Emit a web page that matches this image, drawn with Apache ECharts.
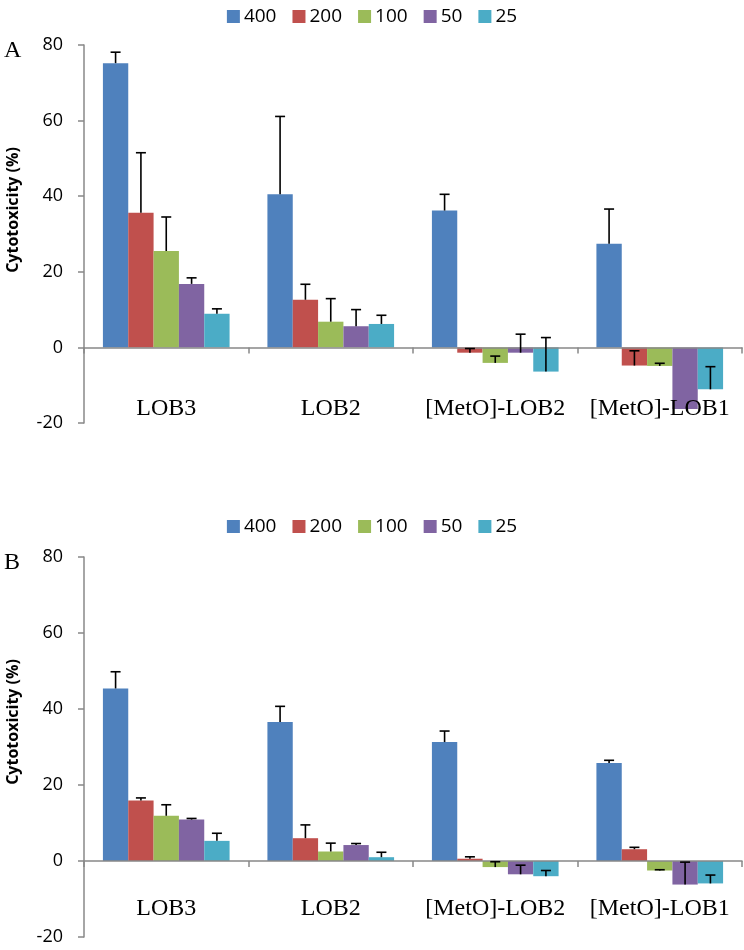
<!DOCTYPE html>
<html>
<head>
<meta charset="utf-8">
<script src="https://cdn.jsdelivr.net/npm/echarts@6/dist/echarts.min.js"></script>
<style>
  html, body { margin: 0; padding: 0; background: #fff; }
  #chart { width: 744px; height: 950px; }
</style>
</head>
<body>
<div id="chart"></div>
<script>
// peptide categories and doses
const categories = ['LOB3', 'LOB2', '[MetO]-LOB2', '[MetO]-LOB1'];
const doses = ['400', '200', '100', '50', '25'];
const yTicks = [-20, 0, 20, 40, 60, 80];

// panel A : mean cytotoxicity (%) and error (+)
const meanA400 = [75.2, 40.5, 36.2, 27.4];
const meanA200 = [35.6, 12.6, -1.4, -4.8];
const meanA100 = [25.5, 6.8, -4.1, -4.9];
const meanA50 = [16.8, 5.6, -1.4, -16.3];
const meanA25 = [8.9, 6.2, -6.4, -11.1];
const errA400 = [2.9, 20.6, 4.3, 9.2];
const errA200 = [15.9, 4.1, 1.1, 3.9];
const errA100 = [9.0, 6.1, 1.8, 0.7];
const errA50 = [1.6, 4.4, 4.9, 0];
const errA25 = [1.3, 2.3, 9.0, 6.0];

// panel B
const meanB400 = [45.4, 36.6, 31.3, 25.8];
const meanB200 = [15.9, 6.0, 0.6, 3.1];
const meanB100 = [11.9, 2.5, -1.6, -2.5];
const meanB50 = [10.9, 4.2, -3.5, -6.2];
const meanB25 = [5.3, 1.0, -4.0, -5.9];
const errB400 = [4.4, 4.1, 2.9, 0.7];
const errB200 = [0.7, 3.5, 0.5, 0.5];
const errB100 = [2.9, 2.2, 1.4, 0.2];
const errB50 = [0.3, 0.4, 2.4, 5.9];
const errB25 = [2.0, 1.3, 1.5, 2.2];

const colors = ['#4F81BD', '#C0504D', '#9BBB59', '#8064A2', '#4BACC6'];
const catGap = 0.23;

const chart = echarts.init(document.getElementById('chart'), null, { renderer: 'canvas' });

/**
 * 误差线：竖线 + 顶端横帽
 */
function renderErr(params, api) {
  const cat = api.value(0);
  const val = api.value(1);
  const err = api.value(2);
  const k = api.value(3);
  if (!err) return null;
  const band = api.size([1, 0])[0];
  const barW = band * (1 - catGap) / doses.length;
  const p0 = api.coord([cat, val]);
  const p1 = api.coord([cat, val + err]);
  const x = p0[0] + (k - (doses.length - 1) / 2) * barW;
  const style = { stroke: '#000', lineWidth: 1.6 };
  return {
    type: 'group',
    children: [
      { type: 'line', shape: { x1: x, y1: p0[1], x2: x, y2: p1[1] }, style: style },
      { type: 'line', shape: { x1: x - 5, y1: p1[1], x2: x + 5, y2: p1[1] }, style: style }
    ]
  };
}

function buildSeries(means, errs, idx) {
  const out = [];
  const errData = [];
  means.forEach((m, k) => {
    out.push({
      name: doses[k],
      type: 'bar',
      xAxisIndex: idx,
      yAxisIndex: idx,
      data: m,
      barGap: 0,
      barCategoryGap: (catGap * 100) + '%',
      itemStyle: { color: colors[k] },
      emphasis: { disabled: true }
    });
    m.forEach((v, c) => errData.push([c, v, errs[k][c], k]));
  });
  out.push({
    name: 'err' + idx,
    type: 'custom',
    xAxisIndex: idx,
    yAxisIndex: idx,
    renderItem: renderErr,
    data: errData,
    z: 10,
    silent: true
  });
  return out;
}

const grids = [
  { left: 84, width: 658, top: 45, height: 378 },
  { left: 84, width: 658, top: 557, height: 380 }
];

function xAxisFor(i, labelMargin) {
  return {
    type: 'category',
    gridIndex: i,
    data: categories,
    z: 5,
    axisLine: { onZero: true, lineStyle: { color: '#888', width: 1.5 } },
    axisTick: { show: true, length: 6, lineStyle: { color: '#888', width: 1.5 } },
    axisLabel: {
      interval: 0,
      margin: labelMargin,
      color: '#000',
      fontFamily: 'Liberation Serif',
      fontSize: 24
    },
    splitLine: { show: false }
  };
}

function yAxisFor(i) {
  return {
    type: 'value',
    gridIndex: i,
    min: yTicks[0],
    max: yTicks[yTicks.length - 1],
    interval: 20,
    axisLine: { show: true, lineStyle: { color: '#888', width: 1.5 } },
    axisTick: { show: true, length: 6, lineStyle: { color: '#888', width: 1.5 } },
    axisLabel: { margin: 21, color: '#000', fontFamily: 'Open Sans', fontSize: 18 },
    splitLine: { show: false }
  };
}

function legendFor(top) {
  return {
    top: top,
    left: 'center',
    data: doses,
    itemWidth: 13,
    itemHeight: 13,
    itemGap: 16,
    icon: 'rect',
    selectedMode: false,
    textStyle: { color: '#000', fontFamily: 'Open Sans', fontSize: 19, padding: [0, 0, 0, -1] }
  };
}

function sideText(y, txt) {
  return {
    type: 'text',
    x: 13,
    y: y,
    rotation: Math.PI / 2,
    style: {
      text: txt,
      fill: '#000',
      font: 'bold 16px "Open Sans"',
      align: 'center',
      verticalAlign: 'middle'
    }
  };
}

function panelText(y, txt) {
  return {
    type: 'text',
    x: 4,
    y: y,
    style: { text: txt, fill: '#000', font: '24px "Liberation Serif"' }
  };
}

const option = {
  animation: false,
  backgroundColor: '#fff',
  legend: [legendFor(2), legendFor(512)],
  grid: grids,
  xAxis: [xAxisFor(0, -26), xAxisFor(1, -40)],
  yAxis: [yAxisFor(0), yAxisFor(1)],
  series: [].concat(
    buildSeries([meanA400, meanA200, meanA100, meanA50, meanA25],
      [errA400, errA200, errA100, errA50, errA25], 0),
    buildSeries([meanB400, meanB200, meanB100, meanB50, meanB25],
      [errB400, errB200, errB100, errB50, errB25], 1)
  ),
  graphic: [
    panelText(39, 'A'),
    panelText(551, 'B'),
    sideText(210, 'Cytotoxicity (%)'),
    sideText(722, 'Cytotoxicity (%)')
  ]
};

chart.setOption(option);
</script>
</body>
</html>
